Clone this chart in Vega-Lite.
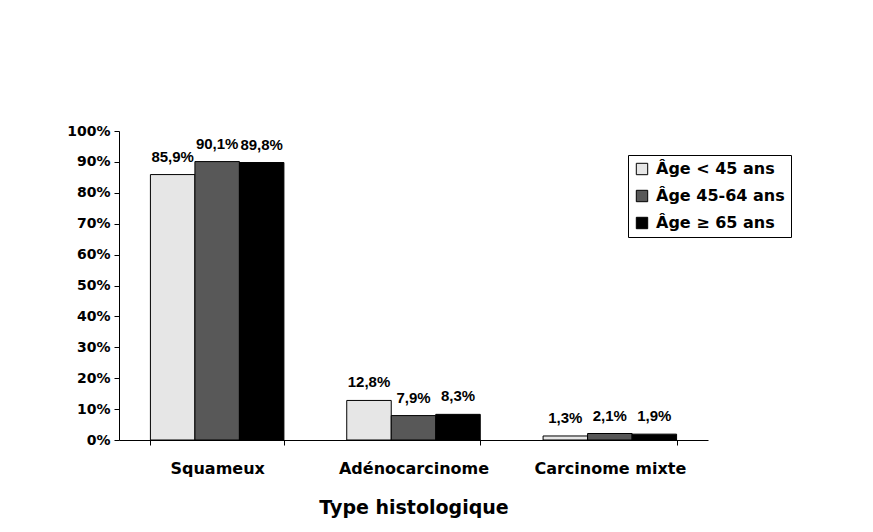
{
  "$schema": "https://vega.github.io/schema/vega-lite/v6.json",
  "autosize": {"type": "none"},
  "width": 589,
  "height": 309,
  "padding": {"left": 119, "top": 131, "right": 165, "bottom": 92},
  "background": "white",
  "data": {"values": [
    {"type": "Squameux", "age": "Âge < 45 ans", "value": 0.859, "label": "85,9%"},
    {"type": "Squameux", "age": "Âge 45-64 ans", "value": 0.901, "label": "90,1%"},
    {"type": "Squameux", "age": "Âge ≥ 65 ans", "value": 0.898, "label": "89,8%"},
    {"type": "Adénocarcinome", "age": "Âge < 45 ans", "value": 0.128, "label": "12,8%"},
    {"type": "Adénocarcinome", "age": "Âge 45-64 ans", "value": 0.079, "label": "7,9%"},
    {"type": "Adénocarcinome", "age": "Âge ≥ 65 ans", "value": 0.083, "label": "8,3%"},
    {"type": "Carcinome mixte", "age": "Âge < 45 ans", "value": 0.013, "label": "1,3%"},
    {"type": "Carcinome mixte", "age": "Âge 45-64 ans", "value": 0.021, "label": "2,1%"},
    {"type": "Carcinome mixte", "age": "Âge ≥ 65 ans", "value": 0.019, "label": "1,9%"}
  ]},
  "encoding": {
    "x": {
      "field": "type", "type": "nominal", "sort": null,
      "scale": {"paddingInner": 0.32, "paddingOuter": 0.16},
      "axis": {
        "title": "Type histologique", "labelAngle": 0, "tickBand": "extent",
        "labelFontSize": 16, "labelFontWeight": "bold", "labelPadding": 15,
        "titleFontSize": 19, "titleFontWeight": "bold", "titlePadding": 22,
        "domainColor": "black", "tickColor": "black", "tickSize": 5,
        "labelColor": "black", "titleColor": "black"
      }
    },
    "xOffset": {"field": "age", "type": "nominal", "sort": null},
    "y": {
      "field": "value", "type": "quantitative",
      "scale": {"domain": [0, 1]},
      "axis": {
        "title": null, "format": ".0%", "values": [0, 0.1, 0.2, 0.3, 0.4, 0.5, 0.6, 0.7, 0.8, 0.9, 1],
        "grid": false, "labelFontSize": 14, "labelFontWeight": "bold", "labelPadding": 4,
        "domainColor": "black", "tickColor": "black", "tickSize": 5, "labelColor": "black"
      }
    }
  },
  "layer": [
    {
      "mark": {"type": "bar", "stroke": "black", "strokeWidth": 1},
      "encoding": {
        "color": {
          "field": "age", "type": "nominal", "sort": null,
          "scale": {"domain": ["Âge < 45 ans", "Âge 45-64 ans", "Âge ≥ 65 ans"], "range": ["#e6e6e6", "#585858", "#000000"]},
          "legend": {
            "title": null, "orient": "none", "legendX": 509, "legendY": 24,
            "strokeColor": "black", "padding": 6, "fillColor": "white",
            "symbolType": "square", "symbolSize": 130, "symbolStrokeColor": "black", "symbolStrokeWidth": 1,
            "labelFontSize": 16, "labelFontWeight": "bold", "labelColor": "black",
            "rowPadding": 11, "labelOffset": 6
          }
        }
      }
    },
    {
      "mark": {"type": "text", "baseline": "middle", "dy": -18, "fontSize": 15, "fontWeight": "bold", "color": "black", "font": "Liberation Sans"},
      "encoding": {"text": {"field": "label"}}
    }
  ],
  "config": {
    "font": "DejaVu Sans",
    "view": {"stroke": null}
  }
}
